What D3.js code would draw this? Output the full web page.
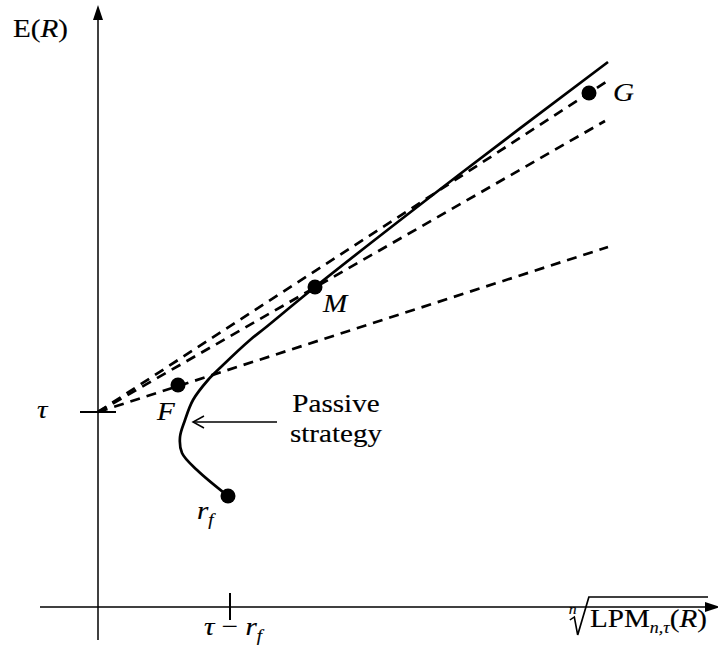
<!DOCTYPE html>
<html>
<head>
<meta charset="utf-8">
<script src="https://cdn.jsdelivr.net/npm/d3@7"></script>
<style>
  body { margin: 0; background: #fff; }
  text { font-family: "Liberation Serif", "Times New Roman", serif; fill: #000; stroke: #000; stroke-width: 0.15px; }
</style>
</head>
<body>
<svg width="718" height="650"></svg>
<script>
// chart values (arbitrary units, origin where the axes cross)
var tau = 3.9;
var tauMinusRf = 2.64;
var points = [
  {name: "F", x: 1.6, y: 4.44},
  {name: "M", x: 4.34, y: 6.4},
  {name: "G", x: 9.82, y: 10.28},
  {name: "rf", x: 2.6, y: 2.22}
];
// dashed lines from (0, tau) through F, M and G
var dashedEnds = [[10.2, 7.2], [10.14, 9.72], [10.16, 10.5]];
// the frontier curve, from r_f up through M
var frontierX = [2.6, 1.98, 1.68, 1.64, 1.74, 1.9, 2.2, 2.48, 3.04, 3.34, 4.34, 7.24, 10.2];
var frontierY = [2.22, 2.74, 3.08, 3.4, 3.74, 4.14, 4.54, 4.82, 5.34, 5.58, 6.4, 8.66, 10.9];
// the "Passive strategy" arrow
var passiveArrow = [[3.58, 3.7], [1.9, 3.7]];

// scales: 50 px per unit, origin at (98, 607)
var x = d3.scaleLinear().domain([0, 12.4]).range([98, 718]);
var y = d3.scaleLinear().domain([0, 12]).range([607, 7]);

var svg = d3.select("svg");
var line = d3.line().x(function(d) { return x(d[0]); }).y(function(d) { return y(d[1]); });
var sx = 1.12; // the type in the figure is a bit wide
var fs = 26;

// axes
svg.append("path").attr("d", line([[0, -0.66], [0, 11.8]]))
    .attr("stroke", "#000").attr("stroke-width", 1.5);
svg.append("path").attr("d", line([[-1.16, 0], [12.2, 0]]))
    .attr("stroke", "#000").attr("stroke-width", 1.5);
// arrow heads
svg.append("path")
    .attr("d", "M" + x(0) + "," + (y(11.8) - 12) + " L" + (x(0) - 5) + "," + (y(11.8) + 3) + " L" + (x(0) + 5) + "," + (y(11.8) + 3) + "Z")
    .attr("fill", "#000");
svg.append("path")
    .attr("d", "M" + (x(12.2) + 12) + "," + y(0) + " L" + (x(12.2) - 3) + "," + (y(0) - 5) + " L" + (x(12.2) - 3) + "," + (y(0) + 5) + "Z")
    .attr("fill", "#000");

// ticks
svg.append("path").attr("d", line([[-0.36, tau], [0.36, tau]]))
    .attr("stroke", "#000").attr("stroke-width", 2);
svg.append("path").attr("d", line([[tauMinusRf, -0.26], [tauMinusRf, 0.28]]))
    .attr("stroke", "#000").attr("stroke-width", 2);

// dashed lines
svg.append("g").selectAll("path")
    .data(dashedEnds)
    .enter()
    .append("path")
    .attr("d", function(d) { return line([[0, tau], d]); })
    .attr("fill", "none")
    .attr("stroke", "#000")
    .attr("stroke-width", 2.7)
    .attr("stroke-dasharray", "10,7");

// frontier
var frontier = frontierX.map(function(v, i) { return [v, frontierY[i]]; });
svg.append("path")
    .attr("d", line.curve(d3.curveCatmullRom)(frontier))
    .attr("fill", "none")
    .attr("stroke", "#000")
    .attr("stroke-width", 2.7);
line.curve(d3.curveLinear);

// dots
svg.append("g").selectAll("circle")
    .data(points)
    .enter()
    .append("circle")
    .attr("cx", function(d) { return x(d.x); })
    .attr("cy", function(d) { return y(d.y); })
    .attr("r", 7.5)
    .attr("fill", "#000");

// passive strategy arrow
svg.append("path").attr("d", line(passiveArrow))
    .attr("stroke", "#000").attr("stroke-width", 1.5);
var tip = passiveArrow[1];
svg.append("path")
    .attr("d", "M" + (x(tip[0]) + 11) + "," + (y(tip[1]) - 6) + " L" + x(tip[0]) + "," + y(tip[1]) + " L" + (x(tip[0]) + 11) + "," + (y(tip[1]) + 6))
    .attr("fill", "none").attr("stroke", "#000").attr("stroke-width", 1.5);

// text helper
function label(px, py, size, anchor) {
  return svg.append("text")
      .attr("transform", "translate(" + px + "," + py + ") scale(" + sx + ",1)")
      .attr("font-size", size)
      .attr("text-anchor", anchor || "start");
}

// point labels
var pF = points[0], pM = points[1], pG = points[2], pR = points[3];
label(x(pF.x) - 21, y(pF.y) + 35, fs).attr("font-style", "italic").text("F");
label(x(pM.x) + 8, y(pM.y) + 25, fs).attr("font-style", "italic").text("M");
label(x(pG.x) + 24, y(pG.y) + 8, fs).attr("font-style", "italic").text("G");
var rf = label(x(pR.x) - 31, y(pR.y) + 23, fs).attr("font-style", "italic");
rf.append("tspan").text("r");
rf.append("tspan").attr("font-size", 17).attr("dy", 6).text("f");

// tau
label(x(0) - 61, y(tau) + 6, fs).attr("font-style", "italic").text("τ");

// tau - r_f
var tr = label(x(tauMinusRf) - 26, y(0) + 28, fs);
tr.append("tspan").attr("font-style", "italic").text("τ");
tr.append("tspan").text(" − ");
tr.append("tspan").attr("font-style", "italic").text("r");
tr.append("tspan").attr("font-style", "italic").attr("font-size", 17).attr("dy", 6).text("f");

// passive strategy
label(336, 412, fs, "middle").text("Passive");
label(336, 442, fs, "middle").text("strategy");

// y axis label
var ey = label(13, 37, fs);
ey.append("tspan").text("E(");
ey.append("tspan").attr("font-style", "italic").text("R");
ey.append("tspan").text(")");

// x axis label: nth root of LPM_{n,tau}(R)
var xl = svg.append("g").attr("transform", "translate(590,627) scale(" + sx + ",1)");
var xt = xl.append("text").attr("font-size", fs);
xt.append("tspan").text("LPM");
xt.append("tspan").attr("font-style", "italic").attr("font-size", 16).attr("dy", 6).text("n,τ");
xt.append("tspan").attr("dy", -6).text("(");
xt.append("tspan").attr("font-style", "italic").text("R");
xt.append("tspan").text(")");
var w = xt.node().getComputedTextLength();
xl.append("path")
    .attr("d", "M-18,-7 L-14,-10 L-11,8 L-1,-30 L" + (w + 1) + ",-30")
    .attr("fill", "none").attr("stroke", "#000").attr("stroke-width", 1.5);
xl.append("text").attr("font-size", 14).attr("font-style", "italic")
    .attr("x", -19).attr("y", -13).text("n");
</script>
</body>
</html>
